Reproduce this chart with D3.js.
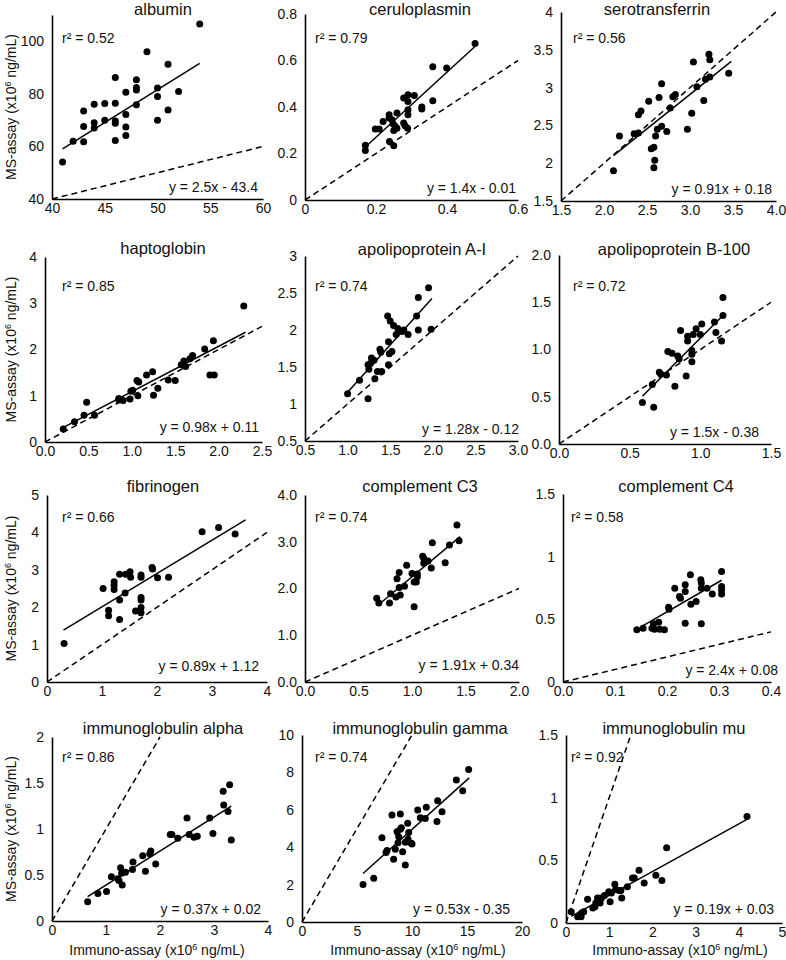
<!DOCTYPE html>
<html><head><meta charset="utf-8">
<script src="https://cdn.jsdelivr.net/npm/d3@7"></script>
<style>
body{margin:0;background:#fff}
svg{display:block}
text{font-family:Arial,"Liberation Sans",sans-serif;fill:#111}
</style>
</head><body>
<svg id="chart" width="786" height="960"></svg>
<script>
// ---------- DATA ----------
const titles = ["albumin","ceruloplasmin","serotransferrin","haptoglobin","apolipoprotein A-I","apolipoprotein B-100","fibrinogen","complement C3","complement C4","immunoglobulin alpha","immunoglobulin gamma","immunoglobulin mu"];

const albumin = [[41,54.1],[42,62],[43,61.8],[43,73.5],[43,67.6],[44,76],[44,69],[44,67],[45,76.3],[45,70],[46,86.2],[46,76.4],[46,69.7],[46,68.8],[46,62.3],[47,80.6],[47,72.1],[47,67.4],[47,64.2],[48,85.4],[48,82.4],[48,81.5],[48,75.9],[49,96],[50,82.2],[50,79],[50,70],[51,91.3],[51,73.9],[52,80.9],[54,106.6]];
const ceruloplasmin = [[0.170,0.235],[0.170,0.213],[0.198,0.305],[0.209,0.305],[0.220,0.338],[0.237,0.367],[0.237,0.353],[0.238,0.252],[0.245,0.345],[0.248,0.328],[0.250,0.299],[0.250,0.233],[0.254,0.317],[0.259,0.374],[0.259,0.309],[0.278,0.331],[0.278,0.439],[0.282,0.319],[0.289,0.309],[0.290,0.453],[0.290,0.424],[0.290,0.388],[0.290,0.367],[0.308,0.450],[0.329,0.400],[0.329,0.391],[0.360,0.573],[0.360,0.427],[0.399,0.568],[0.479,0.673]];
const serotransferrin = [[2.11,1.90],[2.18,2.36],[2.35,2.39],[2.40,2.40],[2.40,2.64],[2.43,2.69],[2.52,2.82],[2.55,2.19],[2.58,2.21],[2.58,1.94],[2.59,2.04],[2.60,2.36],[2.62,2.45],[2.64,2.87],[2.67,2.49],[2.67,3.05],[2.73,2.42],[2.77,2.73],[2.80,2.88],[2.83,2.91],[2.97,2.45],[3.02,2.66],[3.04,3.34],[3.08,3.01],[3.16,2.83],[3.18,3.11],[3.22,3.44],[3.23,3.37],[3.23,3.14],[3.45,3.19]];
const haptoglobin = [[0.21,0.28],[0.34,0.44],[0.45,0.58],[0.48,0.86],[0.57,0.58],[0.85,0.94],[0.85,0.91],[0.90,0.90],[0.98,0.93],[0.99,1.10],[1.01,1.12],[1.06,1.33],[1.07,1.00],[1.08,1.30],[1.17,1.45],[1.24,1.52],[1.25,1.01],[1.30,1.16],[1.42,1.34],[1.50,1.33],[1.57,1.67],[1.60,1.75],[1.62,1.63],[1.67,1.80],[1.70,1.87],[1.84,2.01],[1.90,1.45],[1.95,1.45],[1.94,2.19],[2.29,2.94]];
const apolipoproteinA1 = [[1.00,1.14],[1.14,1.32],[1.24,1.07],[1.24,1.53],[1.25,1.47],[1.27,1.55],[1.28,1.62],[1.31,1.59],[1.32,1.34],[1.35,1.44],[1.38,1.74],[1.39,1.70],[1.40,1.44],[1.47,2.19],[1.48,1.84],[1.48,1.53],[1.50,2.12],[1.49,1.68],[1.52,1.71],[1.54,2.06],[1.57,1.94],[1.59,2.02],[1.64,1.98],[1.66,2.00],[1.71,1.94],[1.81,2.19],[1.83,2.44],[1.83,2.00],[1.95,2.57],[1.98,2.01]];
const apolipoproteinB100 = [[0.59,0.44],[0.66,0.63],[0.67,0.39],[0.71,0.76],[0.72,0.74],[0.76,0.73],[0.77,0.98],[0.80,0.96],[0.82,0.61],[0.84,0.93],[0.85,0.90],[0.86,1.20],[0.90,0.72],[0.91,1.14],[0.91,1.09],[0.94,0.99],[0.94,0.87],[0.94,0.95],[0.95,1.16],[0.97,1.22],[1.00,1.16],[1.01,1.27],[1.10,1.29],[1.11,1.18],[1.15,1.09],[1.16,1.36],[1.16,1.55]];
const fibrinogen = [[0.31,1.03],[1.02,2.50],[1.12,1.92],[1.12,1.77],[1.22,2.68],[1.22,2.59],[1.22,2.47],[1.32,2.88],[1.32,2.19],[1.32,1.67],[1.42,2.38],[1.43,2.88],[1.51,2.95],[1.52,2.80],[1.61,1.90],[1.71,2.86],[1.71,2.80],[1.71,2.26],[1.71,2.19],[1.71,1.99],[1.71,1.85],[1.91,3.06],[1.92,3.02],[2.01,2.79],[2.21,2.80],[2.82,4.02],[3.12,4.13],[3.42,3.96]];
const complementC3 = [[0.67,1.79],[0.69,1.69],[0.79,1.69],[0.80,1.89],[0.85,1.82],[0.86,2.21],[0.88,2.34],[0.88,2.02],[0.89,1.86],[0.93,2.05],[0.95,2.50],[1.02,1.61],[1.00,2.32],[1.02,2.14],[1.04,2.14],[1.05,2.31],[1.05,2.25],[1.10,2.69],[1.11,2.64],[1.11,2.54],[1.15,2.59],[1.18,2.44],[1.19,2.98],[1.31,2.55],[1.35,2.93],[1.42,3.36],[1.44,3.02]];
const complementC4 = [[0.142,0.416],[0.154,0.429],[0.171,0.429],[0.174,0.464],[0.176,0.421],[0.184,0.477],[0.186,0.421],[0.195,0.416],[0.203,0.597],[0.204,0.581],[0.215,0.749],[0.224,0.682],[0.226,0.669],[0.235,0.775],[0.235,0.722],[0.235,0.469],[0.245,0.855],[0.246,0.621],[0.256,0.642],[0.265,0.815],[0.266,0.789],[0.266,0.749],[0.266,0.464],[0.277,0.749],[0.287,0.703],[0.305,0.882],[0.305,0.762],[0.305,0.735],[0.305,0.703]];
const immunoglobulinA = [[0.66,0.21],[0.85,0.30],[1.01,0.32],[1.10,0.48],[1.22,0.46],[1.24,0.44],[1.27,0.58],[1.29,0.52],[1.30,0.39],[1.36,0.53],[1.50,0.64],[1.49,0.56],[1.68,0.71],[1.73,0.54],[1.81,0.73],[1.83,0.76],[1.92,0.62],[2.19,0.94],[2.22,0.94],[2.33,0.90],[2.50,1.12],[2.54,0.94],[2.63,0.91],[2.69,0.92],[2.92,1.12],[2.98,0.95],[3.17,1.41],[3.18,1.26],[3.26,1.19],[3.29,1.48],[3.32,0.88]];
const immunoglobulinG = [[5.55,2.01],[6.52,2.34],[7.27,4.51],[7.64,3.71],[7.73,3.82],[8.18,5.72],[8.33,3.35],[8.48,3.89],[8.64,4.83],[8.73,4.24],[8.79,4.56],[8.94,4.96],[8.94,5.78],[9.03,5.04],[9.15,3.76],[9.39,4.26],[9.39,3.05],[9.61,5.28],[9.64,4.42],[9.70,4.78],[9.94,4.21],[10.0,4.17],[10.52,5.99],[10.76,5.58],[11.21,5.54],[11.30,6.13],[12.27,5.37],[12.33,6.49],[12.73,5.90],[14.03,7.59],[14.61,7.02],[15.15,8.16]];
const immunoglobulinM = [[0.12,0.09],[0.27,0.05],[0.35,0.05],[0.36,0.08],[0.41,0.09],[0.50,0.19],[0.62,0.12],[0.67,0.13],[0.69,0.16],[0.73,0.20],[0.77,0.18],[0.79,0.16],[0.82,0.20],[0.89,0.22],[0.99,0.25],[1.02,0.17],[1.05,0.24],[1.13,0.31],[1.15,0.27],[1.23,0.26],[1.29,0.20],[1.27,0.26],[1.42,0.29],[1.54,0.36],[1.58,0.36],[1.69,0.42],[1.81,0.32],[2.08,0.38],[2.22,0.34],[2.33,0.60],[4.19,0.85]];

const panelPoints = [albumin, ceruloplasmin, serotransferrin, haptoglobin, apolipoproteinA1, apolipoproteinB100, fibrinogen, complementC3, complementC4, immunoglobulinA, immunoglobulinG, immunoglobulinM];

const r2Values = ["0.52","0.79","0.56","0.85","0.74","0.72","0.66","0.74","0.58","0.86","0.74","0.92"];
const slopes = [2.5, 1.4, 0.91, 0.98, 1.28, 1.5, 0.89, 1.91, 2.4, 0.37, 0.53, 0.19];
const intercepts = [-43.4, -0.01, 0.18, 0.11, -0.12, -0.38, 1.12, 0.34, 0.08, 0.02, -0.35, 0.03];
const equationLabels = ["y = 2.5x - 43.4","y = 1.4x - 0.01","y = 0.91x + 0.18","y = 0.98x + 0.11","y = 1.28x - 0.12","y = 1.5x - 0.38","y = 0.89x + 1.12","y = 1.91x + 0.34","y = 2.4x + 0.08","y = 0.37x + 0.02","y = 0.53x - 0.35","y = 0.19x + 0.03"];
const fitRanges = [[41,54],[0.17,0.478],[2.11,3.48],[0.19,2.31],[1.0,1.99],[0.59,1.165],[0.3,3.61],[0.69,1.45],[0.15,0.305],[0.66,3.32],[5.55,15.2],[0.12,4.18]];

const xDomains = [[40,60],[0,0.6],[1.5,4],[0,2.5],[0.5,3],[0,1.5],[0,4],[0,2],[0,0.4],[0,4],[0,20],[0,5]];
const yDomains = [[40,110],[0,0.8],[1.5,4],[0,4],[0.5,3],[0,2],[0,5],[0,4],[0,1.5],[0,2],[0,10],[0,1.5]];
const xTickLabels = [
  ["40","45","50","55","60"],["0","0.2","0.4","0.6"],["1.5","2.0","2.5","3.0","3.5","4.0"],
  ["0.0","0.5","1.0","1.5","2.0","2.5"],["0.5","1.0","1.5","2.0","2.5","3.0"],["0.0","0.5","1.0","1.5"],
  ["0","1","2","3","4"],["0.0","0.5","1.0","1.5","2.0"],["0.0","0.1","0.2","0.3","0.4"],
  ["0","1","2","3","4"],["0","5","10","15","20"],["0","1","2","3","4","5"]];
const yTickLabels = [
  ["40","60","80","100"],["0","0.2","0.4","0.6","0.8"],["1.5","2","2.5","3","3.5","4"],
  ["0","1","2","3","4"],["0.5","1","1.5","2","2.5","3"],["0.0","0.5","1.0","1.5","2.0"],
  ["0","1","2","3","4","5"],["0.0","1.0","2.0","3.0","4.0"],["0","0.5","1","1.5"],
  ["0","0.5","1","1.5","2"],["0","2","4","6","8","10"],["0","0.5","1","1.5"]];

// ---------- LAYOUT (pixel geometry) ----------
const plotBox = [ // left, right, top, bottom
  [52,263,15,199],[305,518,14,200],[561,776,12,201],
  [45,262,257,442],[305,518,256,441],[559,771,255,444],
  [47,267,495,682],[305,519,495,682],[563,771,494,682],
  [52,268,737,921],[302,522,735,922],[566,782,735,923]];
const titlePos = [[163,15],[420,15],[657,15],[163,254],[422,255],[674,255],[163,492],[420,492],[676,492],[163,734],[420,734],[674,734]];
const r2Pos = [[62,43],[315,43],[573,43],[62,291],[315,291],[573,291],[62,522],[315,522],[571,522],[62,762],[315,762],[571,762]];
const eqPos = [[258,192],[516,193],[772,194],[259,432],[519,434],[759,437],[259,671],[519,670],[778,675],[261,914],[510,914],[774,914]];

const svg = d3.select("#chart");

panelPoints.forEach((pts, i) => {
  const [L, R, T, B] = plotBox[i];
  const x = d3.scaleLinear().domain(xDomains[i]).range([L, R]);
  const y = d3.scaleLinear().domain(yDomains[i]).range([B, T]);
  const g = svg.append("g");

  // axes
  const xt = xTickLabels[i], yt = yTickLabels[i];
  const xa = g.append("g").attr("transform", `translate(0,${B})`)
    .call(d3.axisBottom(x).tickValues(xt.map(Number)).tickFormat((d, j) => xt[j]).tickSize(0).tickPadding(4));
  const ya = g.append("g").attr("transform", `translate(${L},0)`)
    .call(d3.axisLeft(y).tickValues(yt.map(Number)).tickFormat((d, j) => yt[j]).tickSize(0).tickPadding(8));
  [xa, ya].forEach(a => {
    a.select(".domain").attr("stroke", "#000").attr("stroke-width", 1.6);
    a.selectAll("text").attr("font-size", 14).attr("fill", "#111")
      .style("font-family", "Arial, 'Liberation Sans', sans-serif");
  });

  // identity dashed line y = x
  const lo = Math.max(xDomains[i][0], yDomains[i][0]);
  const hi = Math.min(xDomains[i][1], yDomains[i][1]);
  const line = d3.line().x(d => x(d[0])).y(d => y(d[1]));
  g.append("path").attr("d", line([[lo, lo], [hi, hi]]))
    .attr("fill", "none").attr("stroke", "#000").attr("stroke-width", 1.5)
    .attr("stroke-dasharray", "6,4");

  // regression line
  const [f0, f1] = fitRanges[i];
  g.append("path").attr("d", line([[f0, slopes[i] * f0 + intercepts[i]], [f1, slopes[i] * f1 + intercepts[i]]]))
    .attr("fill", "none").attr("stroke", "#000").attr("stroke-width", 1.5);

  // points
  g.selectAll("circle.pt").data(pts).enter().append("circle")
    .attr("class", "pt").attr("cx", d => x(d[0])).attr("cy", d => y(d[1]))
    .attr("r", 3.5).attr("fill", "#000");

  // title
  g.append("text").attr("x", titlePos[i][0]).attr("y", titlePos[i][1])
    .attr("text-anchor", "middle").attr("font-size", 16.5).text(titles[i]);

  // r^2
  g.append("text").attr("x", r2Pos[i][0]).attr("y", r2Pos[i][1])
    .attr("font-size", 14).text("r² = " + r2Values[i]);

  // equation
  g.append("text").attr("x", eqPos[i][0]).attr("y", eqPos[i][1])
    .attr("text-anchor", "end").attr("font-size", 14).text(equationLabels[i]);

  // y-axis label (first column)
  if (i % 3 === 0) {
    const cy = (T + B) / 2;
    const t = g.append("text").attr("transform", `translate(16,${cy}) rotate(-90)`)
      .attr("text-anchor", "middle").attr("font-size", 14);
    t.append("tspan").text("MS-assay (x10");
    t.append("tspan").attr("font-size", 9).attr("dy", -5).text("6");
    t.append("tspan").attr("dy", 5).text(" ng/mL)");
  }
  // x-axis label (last row)
  if (i >= 9) {
    const t = g.append("text").attr("x", [157, 418, 680][i - 9]).attr("y", 955)
      .attr("text-anchor", "middle").attr("font-size", 14);
    t.append("tspan").text("Immuno-assay (x10");
    t.append("tspan").attr("font-size", 9).attr("dy", -5).text("6");
    t.append("tspan").attr("dy", 5).text(" ng/mL)");
  }
});
</script>
</body></html>
